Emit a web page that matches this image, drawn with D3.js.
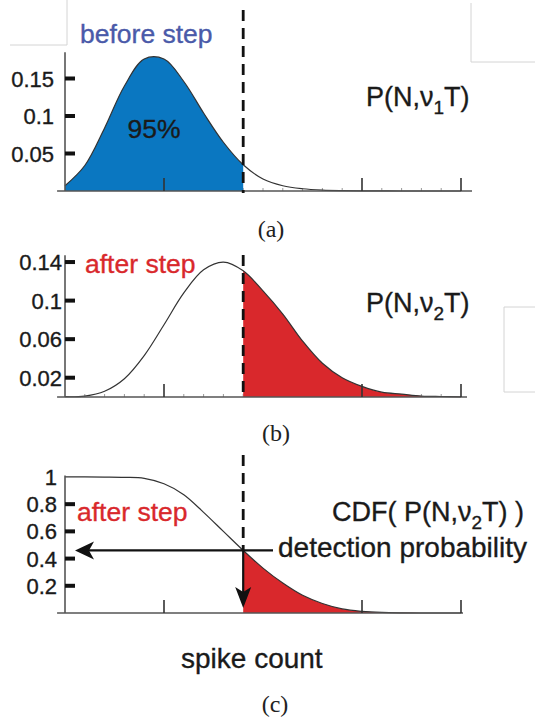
<!DOCTYPE html>
<html>
<head>
<meta charset="utf-8">
<script src="https://cdn.jsdelivr.net/npm/d3@7"></script>
<style>
  body { margin: 0; background: #fff; }
  svg { display: block; }
  text { font-family: "Liberation Sans", Arial, sans-serif; }
  .cap { font-family: "Liberation Serif", "DejaVu Serif", serif; }
</style>
</head>
<body>
<svg id="chart" width="535" height="720"></svg>
<script>
// spike counts N on the x axis
var spikeCounts = [0, 1, 2, 3, 4, 5, 6, 7, 8, 9, 10, 11, 12, 13, 14, 15, 16, 17, 18, 19, 20]

// P(N, v1 T), before the step
var beforeStep = [0.007, 0.034, 0.084, 0.140, 0.176, 0.176, 0.146, 0.104, 0.065, 0.035,
                  0.016, 0.007, 0.003, 0.0012, 0.0005, 0.0002, 0.0001, 0, 0, 0, 0]

// P(N, v2 T), after the step
var afterStep = [0.0003, 0.001, 0.006, 0.019, 0.043, 0.075, 0.108, 0.132, 0.140, 0.131,
                 0.110, 0.086, 0.058, 0.035, 0.020, 0.011, 0.005, 0.003, 0.001, 0.0005, 0.0002]

// CDF( P(N, v2 T) ), read as probability of N or more
var afterStepCdf = [1, 1, 0.999, 0.997, 0.99, 0.95, 0.87, 0.74, 0.60, 0.46,
                    0.33, 0.22, 0.13, 0.07, 0.03, 0.012, 0.004, 0.001, 0, 0, 0]

var threshold = 9
var detection = 0.46

var majorTicks = [5, 15, 20]
var minorTicks = [1, 2, 3, 4, 6, 7, 8, 9, 10, 11, 12, 13, 14, 16, 17, 18, 19]

var ticksA = [0.05, 0.1, 0.15]
,   labelsA = ['0.05', '0.1', '0.15']
,   ticksB = [0.02, 0.06, 0.1, 0.14]
,   labelsB = ['0.02', '0.06', '0.1', '0.14']
,   ticksC = [0.2, 0.4, 0.6, 0.8, 1]
,   labelsC = ['0.2', '0.4', '0.6', '0.8', '1']

var BLUE = '#0a77c1'
,   RED = '#d9282c'
,   INK = '#1a1a1a'
,   AXIS = '#555'

var svg = d3.select('#chart')

var x = d3.scaleLinear().domain([0, 20]).range([65, 461])

function arrowHead(tx, ty, dir) {
  // notched arrow head, dir = 'left' or 'down'
  if (dir === 'left') {
    return 'M' + tx + ',' + ty + 'L' + (tx + 19) + ',' + (ty - 9) + 'L' + (tx + 14) + ',' + ty +
      'L' + (tx + 19) + ',' + (ty + 9) + 'Z'
  }
  return 'M' + tx + ',' + ty + 'L' + (tx - 8) + ',' + (ty - 21) + 'L' + tx + ',' + (ty - 16) +
    'L' + (tx + 8) + ',' + (ty - 21) + 'Z'
}

// heavier text, like the source rendering
function label(g, px, py, size, colour) {
  return g.append('text').attr('x', px).attr('y', py)
    .attr('font-size', size).attr('fill', colour)
    .attr('stroke', colour).attr('stroke-width', 0.35)
}

function panel(opts) {
  var g = svg.append('g').attr('class', 'panel-' + opts.id)
  var y = d3.scaleLinear().domain(opts.yDomain).range(opts.yRange)
  var pts = spikeCounts.map((n, i) => [n, opts.values[i]])
  var y0 = y(0)

  // minor ticks sit under the fill
  if (opts.minor) {
    g.selectAll('.minor').data(minorTicks).enter().append('line')
      .attr('class', 'minor')
      .attr('x1', (d) => x(d)).attr('x2', (d) => x(d))
      .attr('y1', y0).attr('y2', y0 - 3)
      .attr('stroke', '#999').attr('stroke-width', 1)
  }

  var clipId = 'clip-' + opts.id
  g.append('clipPath').attr('id', clipId)
    .append('rect')
    .attr('x', x(opts.fillFrom)).attr('y', 0)
    .attr('width', x(opts.fillTo) - x(opts.fillFrom)).attr('height', y0)

  var area = d3.area()
    .x((d) => x(d[0])).y0(y0).y1((d) => Math.min(y0, y(d[1])))
    .curve(d3.curveCatmullRom)

  var line = d3.line()
    .x((d) => x(d[0])).y((d) => Math.min(y0, y(d[1])))
    .curve(d3.curveCatmullRom)

  g.append('path').datum(pts)
    .attr('d', area)
    .attr('fill', opts.fill)
    .attr('clip-path', 'url(#' + clipId + ')')

  g.append('path').datum(pts)
    .attr('d', line)
    .attr('fill', 'none')
    .attr('stroke', '#333').attr('stroke-width', 1.2)

  // axes
  g.append('line')
    .attr('x1', x(-0.4)).attr('x2', opts.axisEnd)
    .attr('y1', y0).attr('y2', y0)
    .attr('stroke', AXIS).attr('stroke-width', 1.6)

  g.append('line')
    .attr('x1', x(0)).attr('x2', x(0))
    .attr('y1', y0).attr('y2', y(opts.yDomain[1]))
    .attr('stroke', AXIS).attr('stroke-width', 1.6)

  g.selectAll('.major').data(majorTicks).enter().append('line')
    .attr('class', 'major')
    .attr('x1', (d) => x(d)).attr('x2', (d) => x(d))
    .attr('y1', y0).attr('y2', y0 - 13)
    .attr('stroke', '#333').attr('stroke-width', 1.6)

  g.selectAll('.ybar').data(opts.ticks.filter((t) => t < 1)).enter().append('rect')
    .attr('class', 'ybar')
    .attr('x', x(0)).attr('y', (d) => y(d) - 2)
    .attr('width', 10).attr('height', 4)
    .attr('fill', '#111')

  g.selectAll('.ylab').data(opts.ticks).enter().append('text')
    .attr('class', 'ylab')
    .attr('x', opts.labelRight)
    .attr('y', (d) => y(d) + 8)
    .attr('text-anchor', 'end')
    .attr('font-size', 22)
    .attr('fill', INK).attr('stroke', INK).attr('stroke-width', 0.35)
    .text((d, i) => opts.labels[i])

  // threshold
  g.append('line')
    .attr('class', 'threshold')
    .attr('x1', x(threshold)).attr('x2', x(threshold))
    .attr('y1', opts.dashTop).attr('y2', opts.dashBottom)
    .attr('stroke', '#111').attr('stroke-width', 2.8)
    .attr('stroke-dasharray', '11,7')

  return { g: g, y: y }
}

// artefact frames from the source page
var frames = [
  'M10,45 H67 V0',
  'M471,3 V62 H535',
  'M535,307 H504 V392 H535'
]
svg.selectAll('.frame').data(frames).enter().append('path')
  .attr('class', 'frame')
  .attr('d', (d) => d)
  .attr('fill', 'none').attr('stroke', '#d4d4d4').attr('stroke-width', 1)

// (a) before step
var pa = panel({
  id: 'a', values: beforeStep, yDomain: [0, 0.185], yRange: [191, 52.25],
  ticks: ticksA, labels: labelsA, labelRight: 54,
  fill: BLUE, fillFrom: 0, fillTo: threshold, minor: true, axisEnd: 472,
  dashTop: 10, dashBottom: 193
})

label(pa.g, 80, 43, 26.5, '#4a5aa9').text('before step')
label(pa.g, 154, 138, 26.5, INK).attr('text-anchor', 'middle').text('95%')

var ta = label(pa.g, 366, 106, 27, INK)
ta.append('tspan').text('P(N,ν')
ta.append('tspan').attr('font-size', 19).attr('dy', 8).text('1')
ta.append('tspan').attr('dy', -8).text('T)')

svg.append('text').attr('class', 'cap').attr('x', 271).attr('y', 237)
  .attr('text-anchor', 'middle').attr('font-size', 24).attr('fill', '#222').text('(a)')

// (b) after step
var pb = panel({
  id: 'b', values: afterStep, yDomain: [0, 0.147], yRange: [397, 255.3],
  ticks: ticksB, labels: labelsB, labelRight: 62,
  fill: RED, fillFrom: threshold, fillTo: 20.3, minor: true, axisEnd: 467,
  dashTop: 255, dashBottom: 399
})

label(pb.g, 85, 273, 26.5, RED).text('after step')

var tb = label(pb.g, 366, 312, 27, INK)
tb.append('tspan').text('P(N,ν')
tb.append('tspan').attr('font-size', 19).attr('dy', 8).text('2')
tb.append('tspan').attr('dy', -8).text('T)')

svg.append('text').attr('class', 'cap').attr('x', 276).attr('y', 441)
  .attr('text-anchor', 'middle').attr('font-size', 24).attr('fill', '#222').text('(b)')

// (c) detection probability
var yc = d3.scaleLinear().domain([0, 1.01]).range([613, 475.6])
var pc = panel({
  id: 'c', values: afterStepCdf, yDomain: [0, 1.01], yRange: [613, 475.6],
  ticks: ticksC, labels: labelsC, labelRight: 57,
  fill: RED, fillFrom: threshold, fillTo: 20.3, minor: false, axisEnd: 463,
  dashTop: 455, dashBottom: yc(detection)
})

// below the crossing the line turns into a solid arrow
pc.g.append('line')
  .attr('x1', x(threshold)).attr('x2', x(threshold))
  .attr('y1', pc.y(detection)).attr('y2', pc.y(0) - 14)
  .attr('stroke', '#111').attr('stroke-width', 2.2)
pc.g.append('path').attr('d', arrowHead(x(threshold), pc.y(0) - 5, 'down')).attr('fill', '#111')

pc.g.append('line')
  .attr('x1', x(0) + 22).attr('x2', 273)
  .attr('y1', pc.y(detection)).attr('y2', pc.y(detection))
  .attr('stroke', '#111').attr('stroke-width', 2.2)
pc.g.append('path').attr('d', arrowHead(x(0) + 10, pc.y(detection), 'left')).attr('fill', '#111')

label(pc.g, 77, 521, 26.5, RED).text('after step')

var tc = label(pc.g, 332, 521, 27, INK)
tc.append('tspan').text('CDF( P(N,ν')
tc.append('tspan').attr('font-size', 19).attr('dy', 8).text('2')
tc.append('tspan').attr('dy', -8).text('T) )')

label(pc.g, 278, 557, 28, INK).text('detection probability')
label(pc.g, 181, 668, 28, INK).text('spike count')

svg.append('text').attr('class', 'cap').attr('x', 275).attr('y', 712)
  .attr('text-anchor', 'middle').attr('font-size', 24).attr('fill', '#222').text('(c)')
</script>
</body>
</html>
